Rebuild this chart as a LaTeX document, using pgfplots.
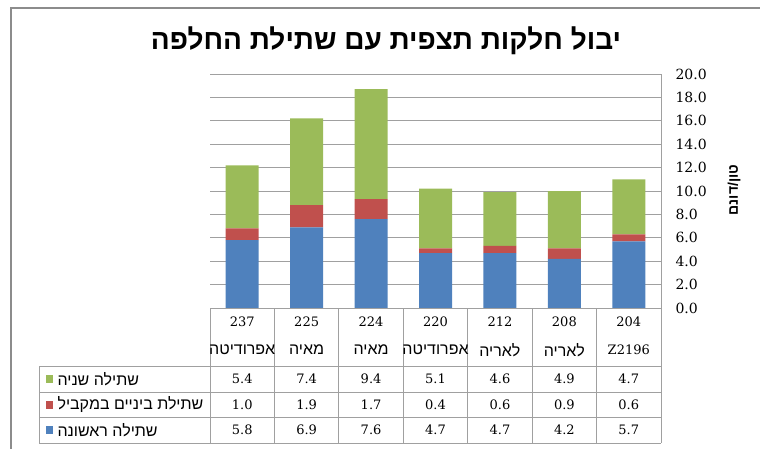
\documentclass[border=0pt]{standalone}
\usepackage{pgfplots}
\pgfplotsset{compat=1.18}
\usepackage{fontspec}
\setmainfont{DejaVu Serif}
\newfontfamily\heb[Script=Hebrew]{Liberation Sans}
\newfontfamily\hebtitle[Script=Hebrew]{Liberation Sans}
\TeXXeTstate=1
\definecolor{cblue}{HTML}{4F81BD}
\definecolor{cred}{HTML}{C0504D}
\definecolor{cgreen}{HTML}{9BBB59}
\definecolor{gridc}{HTML}{A0A0A0}
\definecolor{framec}{HTML}{8C8C8C}
\begin{document}
\begin{tikzpicture}[x=1pt,y=1pt]
\path[use as bounding box] (0,0) rectangle (760,448);
\draw[framec, line width=1.3pt] (11,-2) -- (11,440) -- (762,440);
\node[font=\hebtitle\bfseries\fontsize{28}{30}\selectfont] at (386,407) {\beginR יבול חלקות תצפית עם שתילת החלפה\endR};
\begin{axis}[at={(210pt,140pt)}, anchor=south west, scale only axis,
  width=451pt, height=234pt,
  xmin=-0.5, xmax=6.5, ymin=0, ymax=20,
  ybar stacked, bar width=33pt,
  axis x line=none, axis y line*=right,
  axis line style={gridc, line width=0.9pt},
  ymajorgrids, grid style={gridc, line width=0.9pt},
  major tick length=0pt,
  ytick={0,2,...,20},
  yticklabel pos=right,
  yticklabel style={/pgf/number format/fixed, /pgf/number format/fixed zerofill, /pgf/number format/precision=1, /pgf/number format/assume math mode=true, font=\fontsize{14}{14}\selectfont, anchor=west, xshift=11pt},
  clip=false]
\addplot[fill=cblue, draw=none] coordinates {(0,5.8)(1,6.9)(2,7.6)(3,4.7)(4,4.7)(5,4.2)(6,5.7)};
\addplot[fill=cred, draw=none] coordinates {(0,1.0)(1,1.9)(2,1.7)(3,0.4)(4,0.6)(5,0.9)(6,0.6)};
\addplot[fill=cgreen, draw=none] coordinates {(0,5.4)(1,7.4)(2,9.4)(3,5.1)(4,4.6)(5,4.9)(6,4.7)};
\end{axis}
\node[rotate=90, font=\hebtitle\bfseries\fontsize{14}{14}\selectfont] at (734,258) {\beginR טון/דונם\endR};
% table grid
\begin{scope}[gridc, line width=0.9pt]
\draw (210,140) -- (661,140);
\draw (39,82) -- (661,82);
\draw (39,56) -- (661,56);
\draw (39,31) -- (661,31);
\draw (39,5) -- (661,5);
\draw (39,82) -- (39,5);
\foreach \k in {0,...,7} { \draw ({210+64.43*\k},140) -- ({210+64.43*\k},5); }
\end{scope}
\foreach \num/\name/\g/\r/\b [count=\k from 0] in {237/{\beginR אפרודיטה\endR}/5.4/1.0/5.8, 225/{\beginR מאיה\endR}/7.4/1.9/6.9, 224/{\beginR מאיה\endR}/9.4/1.7/7.6, 220/{\beginR אפרודיטה\endR}/5.1/0.4/4.7, 212/{\beginR לאריה\endR}/4.6/0.6/4.7, 208/{\beginR לאריה\endR}/4.9/0.9/4.2, 204/{\fontsize{13}{13}\selectfont\rmfamily Z2196}/4.7/0.6/5.7} {
  \node[font=\fontsize{13}{13}\selectfont] at ({210+64.43*(\k+0.5)},126) {\num};
  \node[font=\heb\fontsize{16}{16}\selectfont] at ({210+64.43*(\k+0.5)},98) {\name};
  \node[font=\fontsize{13}{13}\selectfont] at ({210+64.43*(\k+0.5)},69) {\g};
  \node[font=\fontsize{13}{13}\selectfont] at ({210+64.43*(\k+0.5)},43.5) {\r};
  \node[font=\fontsize{13}{13}\selectfont] at ({210+64.43*(\k+0.5)},18) {\b};
}
\fill[cgreen] (46,65) rectangle (53,73);
\fill[cred] (46,39.5) rectangle (53,47.5);
\fill[cblue] (46,14) rectangle (53,22);
\node[anchor=west, font=\heb\fontsize{16}{16}\selectfont] at (54,69) {\beginR שתילה שניה\endR};
\node[anchor=west, font=\heb\fontsize{16}{16}\selectfont] at (54,43.5) {\beginR שתילת ביניים במקביל\endR};
\node[anchor=west, font=\heb\fontsize{16}{16}\selectfont] at (54,18) {\beginR שתילה ראשונה\endR};
\end{tikzpicture}
\end{document}
